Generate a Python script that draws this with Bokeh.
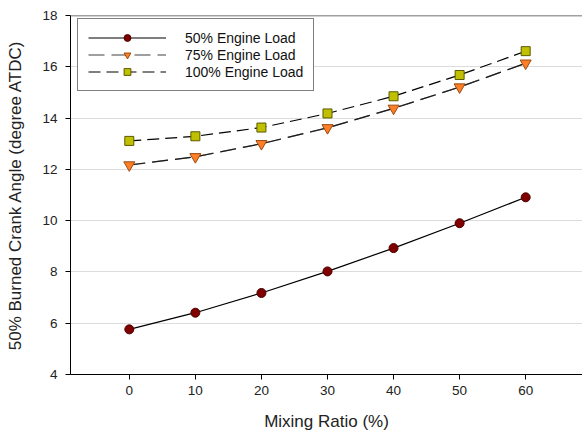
from bokeh.plotting import figure
from bokeh.models import Range1d, FixedTicker, Span, Legend, LegendItem
from bokeh.embed import file_html
from bokeh.resources import INLINE

mixing_ratio = [0, 10, 20, 30, 40, 50, 60]
load_50 = [5.76, 6.41, 7.18, 8.02, 8.93, 9.90, 10.91]
load_75 = [12.17, 12.49, 13.00, 13.62, 14.38, 15.21, 16.14]
load_100 = [13.11, 13.29, 13.63, 14.18, 14.85, 15.68, 16.61]
series_labels = ["50% Engine Load", "75% Engine Load", "100% Engine Load"]
x_ticks = [0, 10, 20, 30, 40, 50, 60]
y_ticks = [4, 6, 8, 10, 12, 14, 16, 18]
x_title = "Mixing Ratio (%)"
y_title = "50% Burned Crank Angle (degree ATDC)"

FONT = "Liberation Sans"

p = figure(width=582, height=435, x_range=Range1d(-8.9, 68.6), y_range=Range1d(4, 18),
           output_backend="svg", toolbar_location=None,
           min_border_left=70, min_border_right=0, min_border_top=15, min_border_bottom=61)
p.outline_line_color = None
p.background_fill_color = "white"
p.border_fill_color = "white"

p.xgrid.visible = False
p.ygrid.ticker = FixedTicker(ticks=y_ticks)
p.ygrid.grid_line_color = "#DCDCDC"
p.ygrid.grid_line_width = 1

for ax, ticks in ((p.xaxis[0], x_ticks), (p.yaxis[0], y_ticks)):
    ax.ticker = FixedTicker(ticks=ticks)
    ax.axis_line_color = "black"
    ax.axis_line_width = 1
    ax.major_tick_line_color = "black"
    ax.major_tick_in = 0
    ax.major_tick_out = 5
    ax.minor_tick_line_color = None
    ax.major_label_text_font = FONT
    ax.major_label_text_font_size = "13.5px"
    ax.major_label_text_color = "#222222"
    ax.axis_label_text_font = FONT
    ax.axis_label_text_font_size = "17px"
    ax.axis_label_text_font_style = "normal"
    ax.axis_label_text_color = "#222222"

p.xaxis.axis_label = x_title
p.yaxis.axis_label = y_title
p.xaxis.major_label_standoff = 6
p.xaxis.axis_label_standoff = 14
p.yaxis.major_label_standoff = 8
p.yaxis.axis_label_standoff = 14

top_line = Span(location=18, dimension="width", line_color="#444444", line_width=1.5)
p.add_layout(top_line)

# 50%
l50 = p.line(mixing_ratio, load_50, line_color="black", line_width=1.2)
m50 = p.scatter(mixing_ratio, load_50, marker="circle", size=9,
                fill_color="#800000", line_color="#4a0000", line_width=1)
# 75% (gray line under, dark line on top; legend uses the gray one)
l75g = p.line(mixing_ratio, load_75, line_color="#808080", line_width=1.3, line_dash="16 7")
l75 = p.line(mixing_ratio, load_75, line_color="#1a1a1a", line_width=1.2, line_dash="16 7")
m75 = p.scatter(mixing_ratio, load_75, marker="inverted_triangle", size=11,
                fill_color="#FF7F27", line_color="#9a4a10", line_width=1)
# 100%
l100 = p.line(mixing_ratio, load_100, line_color="black", line_width=1.2, line_dash="12 6")
m100 = p.scatter(mixing_ratio, load_100, marker="square", size=9,
                 fill_color="#C0C000", line_color="#5a5a00", line_width=1)

legend = Legend(items=[
    LegendItem(label=series_labels[0], renderers=[l50, m50]),
    LegendItem(label=series_labels[1], renderers=[l75g, m75]),
    LegendItem(label=series_labels[2], renderers=[l100, m100]),
], location=(7, 283))
legend.label_text_font = FONT
legend.label_text_font_size = "14px"
legend.label_text_color = "#111111"
legend.glyph_width = 78
legend.glyph_height = 17
legend.label_height = 17
legend.label_standoff = 19
legend.spacing = 0
legend.padding = 10
legend.margin = 0
legend.border_line_color = "black"
legend.border_line_width = 1
legend.background_fill_color = "white"
legend.background_fill_alpha = 1
p.add_layout(legend)

open("out.html", "w").write(file_html(p, INLINE))
